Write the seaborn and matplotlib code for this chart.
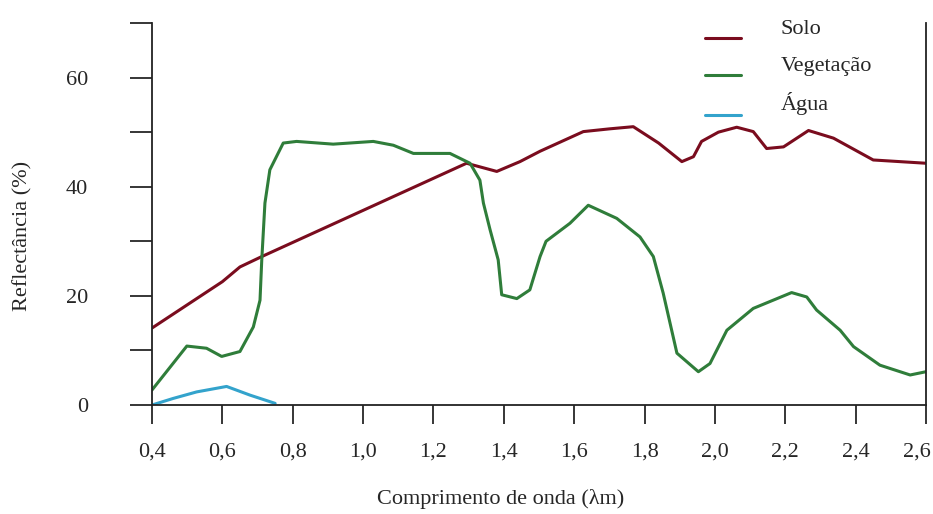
import numpy as np
import pandas as pd
import seaborn as sns
import matplotlib
matplotlib.use('Agg')
import matplotlib.pyplot as plt
import matplotlib.transforms as mtransforms

# values (wavelength in um, reflectance in %)
solo_x = [0.40, 0.60, 0.65, 0.712, 1.294, 1.38, 1.446, 1.503, 1.626, 1.70, 1.768, 1.84,
          1.906, 1.939, 1.962, 2.01, 2.062, 2.109, 2.147, 2.195, 2.266, 2.337, 2.45, 2.60]
solo_y = [14.1, 22.6, 25.3, 27.2, 44.3, 42.8, 44.6, 46.5, 50.1, 50.6, 51.0, 48.0,
          44.6, 45.5, 48.3, 50.0, 50.9, 50.1, 47.0, 47.3, 50.3, 48.9, 44.9, 44.3]

veg_x = [0.40, 0.499, 0.555, 0.598, 0.65, 0.688, 0.707, 0.712, 0.721, 0.735, 0.773,
         0.811, 0.915, 1.029, 1.086, 1.143, 1.247, 1.304, 1.332, 1.342, 1.361, 1.384,
         1.394, 1.437, 1.474, 1.503, 1.52, 1.588, 1.64, 1.721, 1.787, 1.825, 1.853,
         1.892, 1.953, 1.986, 2.034, 2.109, 2.218, 2.261, 2.289, 2.356, 2.394, 2.469,
         2.555, 2.60]
veg_y = [2.75, 10.8, 10.4, 8.9, 9.8, 14.3, 19.2, 26.6, 37.0, 43.1, 48.0,
         48.3, 47.8, 48.3, 47.6, 46.1, 46.1, 44.3, 41.2, 37.0, 32.1, 26.6,
         20.2, 19.5, 21.1, 27.2, 30.0, 33.3, 36.6, 34.2, 30.8, 27.2, 20.5,
         9.5, 6.1, 7.6, 13.7, 17.7, 20.6, 19.8, 17.4, 13.7, 10.7, 7.3,
         5.5, 6.1]

agua_x = [0.40, 0.46, 0.527, 0.612, 0.679, 0.75]
agua_y = [0.0, 1.2, 2.4, 3.4, 1.8, 0.3]

series_names = ['Solo', 'Vegetação', 'Água']
colors = {'Solo': '#7a0c1e', 'Vegetação': '#2f7d3a', 'Água': '#33a3cc'}

x_ticks = [0.4, 0.6, 0.8, 1.0, 1.2, 1.4, 1.6, 1.8, 2.0, 2.2, 2.4, 2.6]
x_labels = ['0,4', '0,6', '0,8', '1,0', '1,2', '1,4', '1,6', '1,8', '2,0', '2,2', '2,4', '2,6']
y_ticks = [0, 10, 20, 30, 40, 50, 60, 70]
y_labels = ['0', '', '20', '', '40', '', '60', '']

df = pd.concat([
    pd.DataFrame({'w': solo_x, 'r': solo_y, 'serie': 'Solo'}),
    pd.DataFrame({'w': veg_x, 'r': veg_y, 'serie': 'Vegetação'}),
    pd.DataFrame({'w': agua_x, 'r': agua_y, 'serie': 'Água'}),
])

sns.set_style('ticks')
plt.rcParams['font.family'] = ['Liberation Serif', 'DejaVu Serif']

fig = plt.figure(figsize=(9.33, 5.14), dpi=100)
ax = fig.add_axes([152/933, 1 - 405/514, 774/933, 382/514])

sns.lineplot(data=df, x='w', y='r', hue='serie', hue_order=series_names,
             palette=colors, linewidth=2.2, estimator=None, sort=False, ax=ax)

ax.set_xlim(0.4, 2.6)
ax.set_ylim(0, 70)
ax.set_xticks(x_ticks)
ax.set_xticklabels(x_labels)
ax.set_yticks(y_ticks)
ax.set_yticklabels(y_labels)
ax.tick_params(axis='x', length=14, width=1.3, pad=13, labelsize=16, direction='out')
ax.tick_params(axis='y', length=16, width=1.3, pad=30, labelsize=16, direction='out')

# last x label sits at the figure edge, nudge it inwards a bit
last = ax.get_xticklabels()[-1]
last.set_transform(last.get_transform() + mtransforms.ScaledTranslation(-9/100, 0, fig.dpi_scale_trans))

for s in ['left', 'bottom', 'right']:
    ax.spines[s].set_linewidth(1.3)
    ax.spines[s].set_color('#222222')
ax.spines['top'].set_visible(False)

ax.set_xlabel('Comprimento de onda (λm)', fontsize=16)
ax.set_ylabel('Reflectância (%)', fontsize=16)
ax.xaxis.set_label_coords((501 - 152) / 774, -0.22)
ax.yaxis.set_label_coords(-0.154, 0.442)

leg = ax.legend(loc='upper left', bbox_to_anchor=(705/933, 1 - 30/514),
                bbox_transform=fig.transFigure, frameon=False, fontsize=16,
                handlelength=1.6, handletextpad=1.8, labelspacing=0.75,
                borderpad=0, borderaxespad=0, title=None)
# in the reference the words sit a bit above their line samples
for t in leg.get_texts():
    t.set_y(12)

fig.savefig('out.png', dpi=100)
